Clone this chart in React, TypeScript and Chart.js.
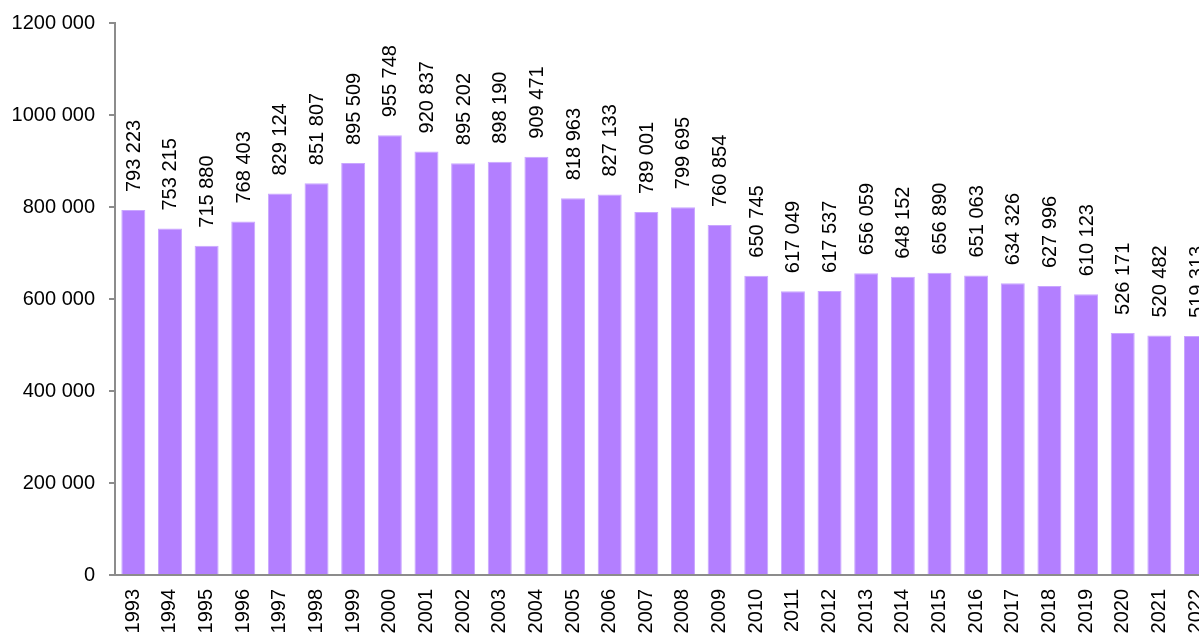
import React, { useEffect, useRef } from "react";
import { Chart, registerables } from "chart.js";

Chart.register(...registerables);

const years: string[] = [
  "1993", "1994", "1995", "1996", "1997", "1998", "1999", "2000", "2001", "2002",
  "2003", "2004", "2005", "2006", "2007", "2008", "2009", "2010", "2011", "2012",
  "2013", "2014", "2015", "2016", "2017", "2018", "2019", "2020", "2021", "2022",
];

const values: number[] = [
  793223, 753215, 715880, 768403, 829124, 851807, 895509, 955748, 920837, 895202,
  898190, 909471, 818963, 827133, 789001, 799695, 760854, 650745, 617049, 617537,
  656059, 648152, 656890, 651063, 634326, 627996, 610123, 526171, 520482, 519313,
];

const yTickValues: number[] = [0, 200000, 400000, 600000, 800000, 1000000, 1200000];

const FONT = "'Liberation Sans', Arial, sans-serif";

function fmtValue(v: number): string {
  const s = String(Math.round(v));
  return s.replace(/\B(?=(\d{3})+(?!\d))/g, " ");
}

function fmtTick(v: number): string {
  if (v === 0) return "0";
  const th = Math.floor(v / 1000);
  return th + " " + String(v % 1000).padStart(3, "0");
}

const labelPlugin = {
  id: "barValueLabels",
  afterDatasetsDraw(chart: any) {
    const ctx = chart.ctx;
    const meta = chart.getDatasetMeta(0);
    ctx.save();
    ctx.font = `20px ${FONT}`;
    ctx.fillStyle = "#000";
    ctx.textAlign = "left";
    ctx.textBaseline = "middle";
    meta.data.forEach((bar: any, i: number) => {
      ctx.save();
      ctx.translate(bar.x + 1, bar.y - 18);
      ctx.rotate(-Math.PI / 2);
      ctx.fillText(fmtValue(values[i]), 0, 0);
      ctx.restore();
    });
    ctx.restore();
  },
};

export default function App() {
  const ref = useRef<HTMLCanvasElement | null>(null);

  useEffect(() => {
    if (!ref.current) return;
    const chart = new Chart(ref.current, {
      type: "bar",
      data: {
        labels: years,
        datasets: [
          {
            data: values,
            backgroundColor: "#B37FFF",
            borderColor: "#C9A6FF",
            borderWidth: 1,
            categoryPercentage: 1,
            barPercentage: 0.655,
          },
        ],
      },
      options: {
        responsive: false,
        animation: false,
        layout: { padding: { top: 23, right: 0, left: 0, bottom: 0 } },
        plugins: {
          legend: { display: false },
          tooltip: { enabled: false },
        },
        scales: {
          x: {
            grid: { display: false, drawTicks: false },
            border: { display: true, color: "#8c8c8c", width: 2 },
            ticks: {
              color: "#000",
              font: { family: FONT, size: 20 },
              maxRotation: 90,
              minRotation: 90,
              padding: 14,
              autoSkip: false,
            },
            afterFit: (scale: any) => {
              scale.height = 60;
              scale.paddingTop = 0;
              scale.paddingBottom = 0;
            },
          },
          y: {
            min: 0,
            max: 1200000,
            afterBuildTicks: (scale: any) => {
              scale.ticks = yTickValues.map((v) => ({ value: v }));
            },
            grid: {
              display: true,
              drawOnChartArea: false,
              drawTicks: true,
              tickLength: 6,
              color: "#8c8c8c",
              lineWidth: 2,
            },
            border: { display: true, color: "#8c8c8c", width: 2 },
            ticks: {
              color: "#000",
              font: { family: FONT, size: 20 },
              padding: 14,
              callback: (v: any) => fmtTick(Number(v)),
            },
            afterFit: (scale: any) => {
              scale.width = 115;
              scale.paddingTop = 0;
              scale.paddingBottom = 0;
            },
          },
        },
      },
      plugins: [labelPlugin],
    });
    return () => chart.destroy();
  }, []);

  return (
    <div
      style={{
        position: "fixed",
        left: 0,
        top: 0,
        width: 1199,
        height: 635,
        overflow: "hidden",
        background: "#fff",
      }}
    >
      <canvas ref={ref} width={1234} height={635} style={{ display: "block" }} />
    </div>
  );
}
